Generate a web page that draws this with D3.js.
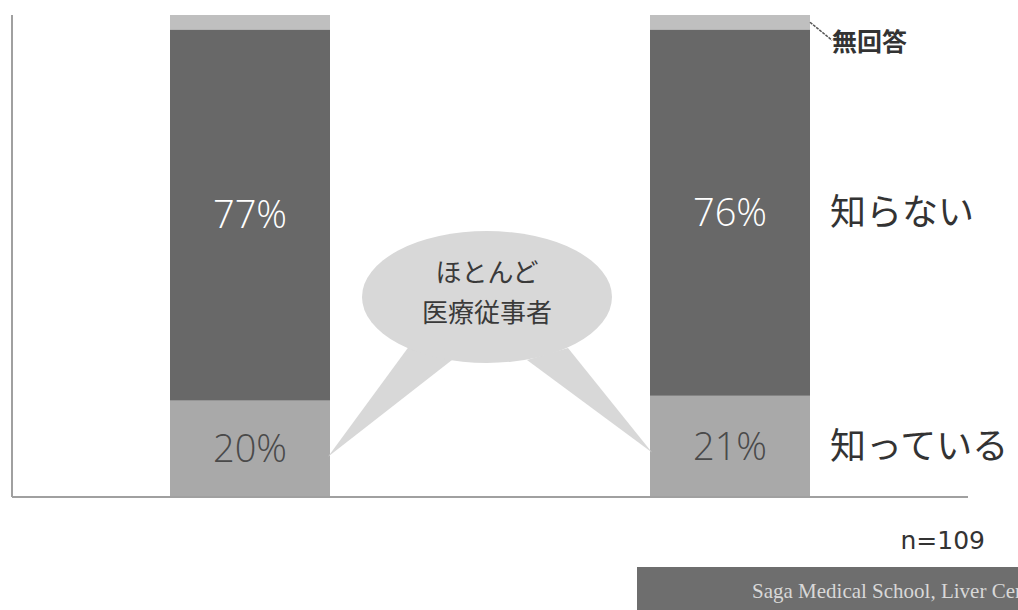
<!DOCTYPE html>
<html>
<head>
<meta charset="utf-8">
<script src="https://cdn.jsdelivr.net/npm/d3@7/dist/d3.min.js"></script>
<style>
  html, body { margin: 0; padding: 0; background: #fff; }
  svg { display: block; }
</style>
</head>
<body>
<svg id="chart" width="1018" height="610"></svg>
<script>
// Survey groups and answer shares (%)
const groups = ["A", "B"];
const known = [20, 21];      // 知っている
const unknown = [77, 76];    // 知らない
const noAnswer = [3, 3];     // 無回答
const seriesKeys = ["known", "unknown", "noAnswer"];
const seriesNames = ["知っている", "知らない", "無回答"];
const sampleLabel = "n=109";
const calloutLines = ["ほとんど", "医療従事者"];
const footerText = "Saga Medical School, Liver Center";

const rows = groups.map((g, i) => ({
  group: g, known: known[i], unknown: unknown[i], noAnswer: noAnswer[i]
}));

const svg = d3.select("#chart");
const W = 1018, H = 610;
const plot = { left: 12, right: 968, top: 15, bottom: 497 };

// Bar centres along the frame
const xPos = d3.scalePoint().domain(groups).range([250, 730]);
const barW = 160;

const y = d3.scaleLinear().domain([0, 100]).range([plot.bottom, plot.top]);

const colors = { known: "#a9a9a9", unknown: "#686868", noAnswer: "#bfbfbf" };

const stacked = d3.stack().keys(seriesKeys)(rows);

// Stacked bars
const layers = svg.append("g").selectAll("g")
  .data(stacked).join("g")
  .attr("fill", d => colors[d.key]);

layers.selectAll("rect")
  .data(d => d.map(v => ({ key: d.key, v })))
  .join("rect")
  .attr("x", d => xPos(d.v.data.group) - barW / 2)
  .attr("width", barW)
  .attr("y", d => y(d.v[1]))
  .attr("height", d => y(d.v[0]) - y(d.v[1]));

// Speech bubble pointing at both "known" segments
const bubble = { cx: 487, cy: 297, rx: 125, ry: 66 };
const tipL = [xPos("A") + barW / 2 - 2, y(known[0] / 2) + 8];
const tipR = [xPos("B") - barW / 2 + 2, y(known[1] / 2) + 6];
const bub = svg.append("g").attr("fill", "#d8d8d8");
bub.append("path").attr("d", d3.line()([[410, 345], [452, 360], tipL]));
bub.append("path").attr("d", d3.line()([[527, 360], [568, 348], tipR]));
bub.append("ellipse")
  .attr("cx", bubble.cx).attr("cy", bubble.cy)
  .attr("rx", bubble.rx).attr("ry", bubble.ry);
svg.append("g").selectAll("text")
  .data(calloutLines).join("text")
  .attr("x", bubble.cx)
  .attr("y", (d, i) => 282 + i * 40)
  .attr("text-anchor", "middle")
  .attr("font-family", "'Noto Sans CJK JP', sans-serif")
  .attr("font-size", 26)
  .attr("fill", "#3a3a3a")
  .text(d => d);

// Frame lines on the left and bottom
svg.append("line")
  .attr("x1", plot.left).attr("x2", plot.left)
  .attr("y1", plot.top).attr("y2", plot.bottom)
  .attr("stroke", "#a0a0a0").attr("stroke-width", 2);
svg.append("line")
  .attr("x1", plot.left).attr("x2", plot.right)
  .attr("y1", plot.bottom).attr("y2", plot.bottom)
  .attr("stroke", "#a0a0a0").attr("stroke-width", 2);

// Percent labels in each main segment
const pctFont = "'Open Sans', 'DejaVu Sans', sans-serif";
stacked.filter(s => s.key !== "noAnswer").forEach(s => {
  svg.append("g").selectAll("text")
    .data(s).join("text")
    .attr("x", d => xPos(d.data.group))
    .attr("y", d => y((d[0] + d[1]) / 2))
    .attr("dy", "0.35em")
    .attr("text-anchor", "middle")
    .attr("font-family", pctFont)
    .attr("font-size", 38)
    .attr("font-weight", 300)
    .attr("fill", s.key === "unknown" ? "#ffffff" : "#4a4a4a")
    .text(d => (d[1] - d[0]) + "%");
});

// Series names to the right of the second bar
const last = rows.length - 1;
const rightX = xPos(groups[last]) + barW / 2 + 20;
const jpFont = "'Noto Sans CJK JP', sans-serif";
svg.append("text")
  .attr("x", rightX).attr("y", y(known[last] / 2)).attr("dy", "0.35em")
  .attr("font-family", jpFont).attr("font-size", 36).attr("fill", "#333")
  .text(seriesNames[0]);
svg.append("text")
  .attr("x", rightX).attr("y", y(known[last] + unknown[last] / 2)).attr("dy", "0.35em")
  .attr("font-family", jpFont).attr("font-size", 36).attr("fill", "#333")
  .text(seriesNames[1]);

// No-answer label with leader line
const naY = y(100 - noAnswer[last] / 2);
svg.append("line")
  .attr("x1", xPos(groups[last]) + barW / 2).attr("y1", naY)
  .attr("x2", rightX + 2).attr("y2", naY + 18)
  .attr("stroke", "#555").attr("stroke-width", 1.5).attr("stroke-dasharray", "3,1");
svg.append("text")
  .attr("x", rightX + 2).attr("y", naY + 20).attr("dy", "0.35em")
  .attr("font-family", jpFont).attr("font-size", 25).attr("font-weight", "bold")
  .attr("fill", "#333")
  .text(seriesNames[2]);

// Sample size
svg.append("text")
  .attr("x", 985).attr("y", 549)
  .attr("text-anchor", "end")
  .attr("font-family", "'DejaVu Sans', sans-serif").attr("font-size", 25)
  .attr("fill", "#333")
  .text(sampleLabel);

// Footer banner (text runs off the right edge of the page)
svg.append("rect")
  .attr("x", 637).attr("y", 567).attr("width", W - 637).attr("height", H - 567)
  .attr("fill", "#6e6e6e");
svg.append("text")
  .attr("x", 752).attr("y", 598)
  .attr("font-family", "'Liberation Serif', serif").attr("font-size", 21)
  .attr("fill", "#d8d8d8")
  .text(footerText);
</script>
</body>
</html>
